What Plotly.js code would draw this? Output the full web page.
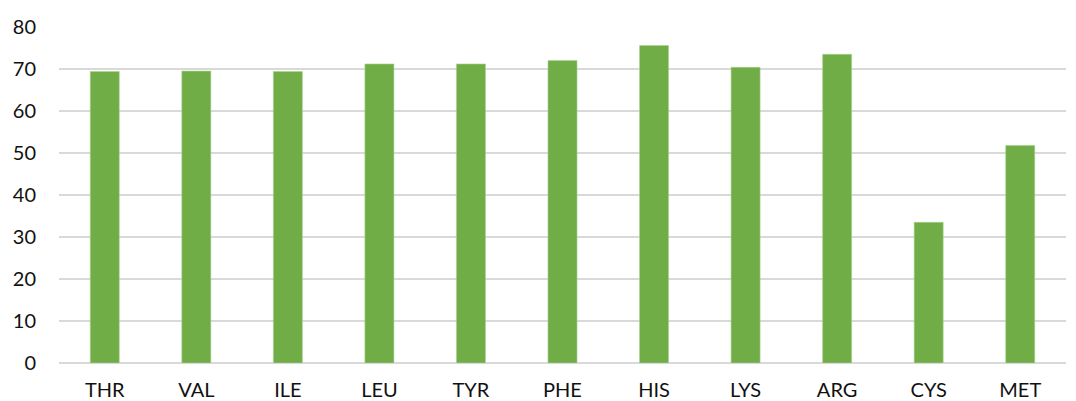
<!DOCTYPE html>
<html>
<head>
<meta charset="utf-8">
<script src="https://cdn.plot.ly/plotly-3.0.1.min.js"></script>
<style>
  html, body { margin: 0; padding: 0; background: #ffffff; }
  #chart { width: 1076px; height: 401px; }
</style>
</head>
<body>
<div id="chart"></div>
<script>
// Amino acid categories and their values
const aminoAcids = ['THR', 'VAL', 'ILE', 'LEU', 'TYR', 'PHE', 'HIS', 'LYS', 'ARG', 'CYS', 'MET'];
const values = [69.4, 69.5, 69.4, 71.2, 71.2, 72.0, 75.6, 70.4, 73.5, 33.5, 51.8];

const barTrace = {
  type: 'bar',
  x: aminoAcids,
  y: values,
  marker: { color: '#70AD47', line: { color: '#a9d18e', width: 0.6 } },
  hoverinfo: 'x+y'
};

const layout = {
  width: 1076,
  height: 401,
  margin: { l: 59, r: 10, t: 27, b: 38 },
  paper_bgcolor: '#ffffff',
  plot_bgcolor: '#ffffff',
  bargap: 0.683,
  showlegend: false,
  font: { family: 'Lato, "Liberation Sans", sans-serif', size: 20, color: '#111111' },
  xaxis: {
    type: 'category',
    showgrid: false,
    showline: false,
    zeroline: false,
    ticks: '',
    ticklabelstandoff: 13,
    tickfont: { size: 20, color: '#111111' },
    fixedrange: true
  },
  yaxis: {
    range: [0, 80],
    dtick: 10,
    tick0: 0,
    showgrid: true,
    gridcolor: '#d9d9d9',
    gridwidth: 1.3,
    zeroline: true,
    zerolinecolor: '#d9d9d9',
    zerolinewidth: 1.3,
    showline: false,
    ticks: '',
    ticklabelstandoff: 22,
    tickfont: { size: 20, color: '#111111' },
    fixedrange: true
  }
};

Plotly.newPlot('chart', [barTrace], layout, { displayModeBar: false, staticPlot: true });
</script>
</body>
</html>
